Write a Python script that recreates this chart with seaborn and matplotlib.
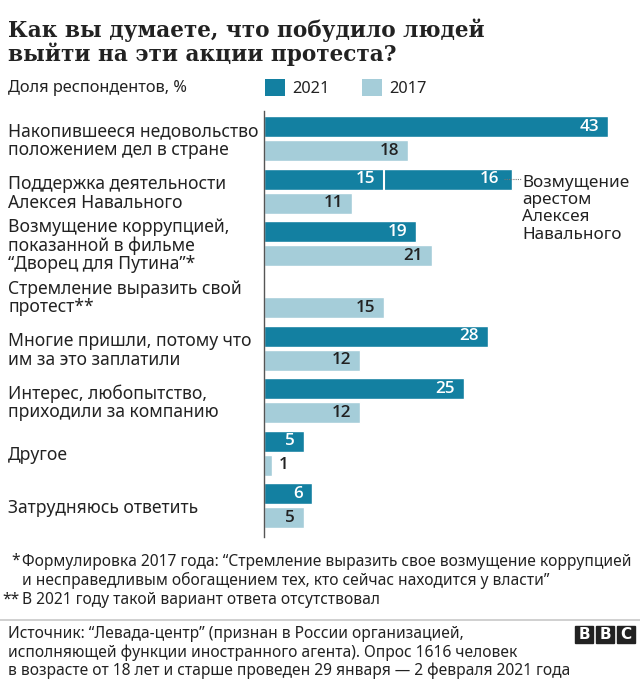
import numpy as np
import pandas as pd
import matplotlib.pyplot as plt
import seaborn as sns
from matplotlib.patches import Patch, Rectangle
from matplotlib.lines import Line2D

# -------------------------
# Data
# -------------------------
categories = [
    "Накопившееся недовольство\nположением дел в стране",
    "Поддержка деятельности\nАлексея Навального",
    "Возмущение коррупцией,\nпоказанной в фильме\n“Дворец для Путина”*",
    "Стремление выразить свой\nпротест**",
    "Многие пришли, потому что\nим за это заплатили",
    "Интерес, любопытство,\nприходили за компанию",
    "Другое",
    "Затрудняюсь ответить",
]
navalny_parts = [15, 16]
values_2021 = [43, sum(navalny_parts), 19, np.nan, 28, 25, 5, 6]
values_2017 = [18, 11, 21, 15, 12, 12, 1, 5]
years = ["2021", "2017"]
colors = ["#1380a1", "#a5cdd9"]
navalny_note = "Возмущение\nарестом\nАлексея\nНавального"

title = "Как вы думаете, что побудило людей\nвыйти на эти акции протеста?"
subtitle = "Доля респондентов, %"
footnote_1 = "Формулировка 2017 года: “Стремление выразить свое возмущение коррупцией\nи несправедливым обогащением тех, кто сейчас находится у власти”"
footnote_2 = "В 2021 году такой вариант ответа отсутствовал"
source = ("Источник: “Левада-центр” (признан в России организацией,\n"
          "исполняющей функции иностранного агента). Опрос 1616 человек\n"
          "в возрасте от 18 лет и старше проведен 29 января — 2 февраля 2021 года")

df = pd.DataFrame({
    "category": categories * 2,
    "year": [years[0]] * len(categories) + [years[1]] * len(categories),
    "value": values_2021 + values_2017,
})

# -------------------------
# Style
# -------------------------
sns.set_style("white")
plt.rcParams['font.family'] = ['Noto Sans', 'DejaVu Sans']
text_color = "#222222"
fs = 12.3
num_font = ['Open Sans', 'Noto Sans', 'DejaVu Sans']

W, H = 640, 681
fig = plt.figure(figsize=(W / 100, H / 100), dpi=100)

def fx(px):
    return px / W

def fy(py):
    return 1 - py / H

ax = fig.add_axes([fx(264), fy(537), fx(640) - fx(264), fy(111) - fy(537)])

# -------------------------
# Bars
# -------------------------
sns.barplot(
    data=df, x="value", y="category", hue="year", hue_order=years,
    palette=dict(zip(years, colors)), orient="h", width=0.916, gap=0.127,
    errorbar=None, legend=False, saturation=1, ax=ax,
)
ax.set_xlim(0, 47)
ax.set_ylim(7.6, -0.53)
ax.set_xlabel("")
ax.set_ylabel("")
ax.set_xticks([])
for side in ["top", "right", "bottom"]:
    ax.spines[side].set_visible(False)
ax.spines["left"].set_color("#555555")
ax.spines["left"].set_linewidth(1.0)

ax.tick_params(axis="y", length=0, pad=256 * 0.72)
for t in ax.get_yticklabels():
    t.set_ha("left")
    t.set_fontsize(12.6)
    t.set_color(text_color)
    t.set_linespacing(1.03)

# value labels
def value_label(x, y, text, color, dx, ha="right"):
    ax.annotate(text, (x, y), xytext=(dx, 0), textcoords="offset points",
                ha=ha, va="center", color=color, fontsize=fs, weight="semibold",
                family=num_font)

for container, year in zip(ax.containers, years):
    for p in container:
        w = p.get_width()
        if np.isnan(w) or w == 0:
            continue
        yc = p.get_y() + p.get_height() / 2
        idx = int(round(yc))
        if year == "2021":
            if idx == 1:
                ax.plot([navalny_parts[0]] * 2, [p.get_y(), p.get_y() + p.get_height()],
                        color="white", lw=1.5)
                value_label(navalny_parts[0], yc, str(navalny_parts[0]), "white", -6.5)
                value_label(w, yc, str(navalny_parts[1]), "white", -9.5)
                ax.plot([w - 1, w + 1.1], [yc, yc], color="#777777", lw=0.8,
                        ls=(0, (1, 1)), clip_on=False)
                ax.annotate(navalny_note, (w, yc), xytext=(7.5, 3),
                            textcoords="offset points", ha="left", va="top",
                            color=text_color, fontsize=fs, linespacing=1.1,
                            annotation_clip=False)
            else:
                value_label(w, yc, str(int(w)), "white", -6.5)
        else:
            if w < 3:
                value_label(w, yc, str(int(w)), text_color, 5, ha="left")
            else:
                value_label(w, yc, str(int(w)), text_color, -6.5)

# -------------------------
# Title, legend, notes
# -------------------------
fig.text(fx(8), fy(18), title, ha="left", va="top", fontsize=15.6,
         family=["DejaVu Serif"], weight="bold", color=text_color, linespacing=1.08)
fig.text(fx(8), fy(88), subtitle, ha="left", va="center", fontsize=11.8, color=text_color)

handles = [Patch(facecolor=c, edgecolor="none", label=y) for c, y in zip(colors, years)]
fig.legend(handles=handles, loc="center left", bbox_to_anchor=(fx(265), fy(88)), ncol=2,
           frameon=False, fontsize=11.8, handlelength=1.22, handleheight=1.22,
           handletextpad=0.45, columnspacing=1.95, borderpad=0, borderaxespad=0,
           labelcolor=text_color)

note_fs = 11.2
fig.text(fx(20), fy(561), "*", ha="right", va="center", fontsize=note_fs, color=text_color)
fig.text(fx(22), fy(554), footnote_1, ha="left", va="top", fontsize=note_fs,
         color=text_color, linespacing=1.15)
fig.text(fx(20), fy(600), "**", ha="right", va="center", fontsize=note_fs, color=text_color)
fig.text(fx(22), fy(600), footnote_2, ha="left", va="center", fontsize=note_fs, color=text_color)

fig.add_artist(Line2D([0, 1], [fy(620), fy(620)], color="#c8c8c8", lw=1.2))
fig.text(fx(8), fy(626), source, ha="left", va="top", fontsize=note_fs,
         color=text_color, linespacing=1.17)

# BBC logo
for i, letter in enumerate("BBC"):
    x0 = 575 + i * 21
    fig.add_artist(Rectangle((fx(x0), fy(643)), fx(18), fy(626) - fy(643), color="#222222"))
    fig.text(fx(x0 + 9), fy(634.5), letter, ha="center", va="center", fontsize=11,
             weight="bold", family=['DejaVu Sans'], color="white")

plt.savefig("out.png", dpi=100)
